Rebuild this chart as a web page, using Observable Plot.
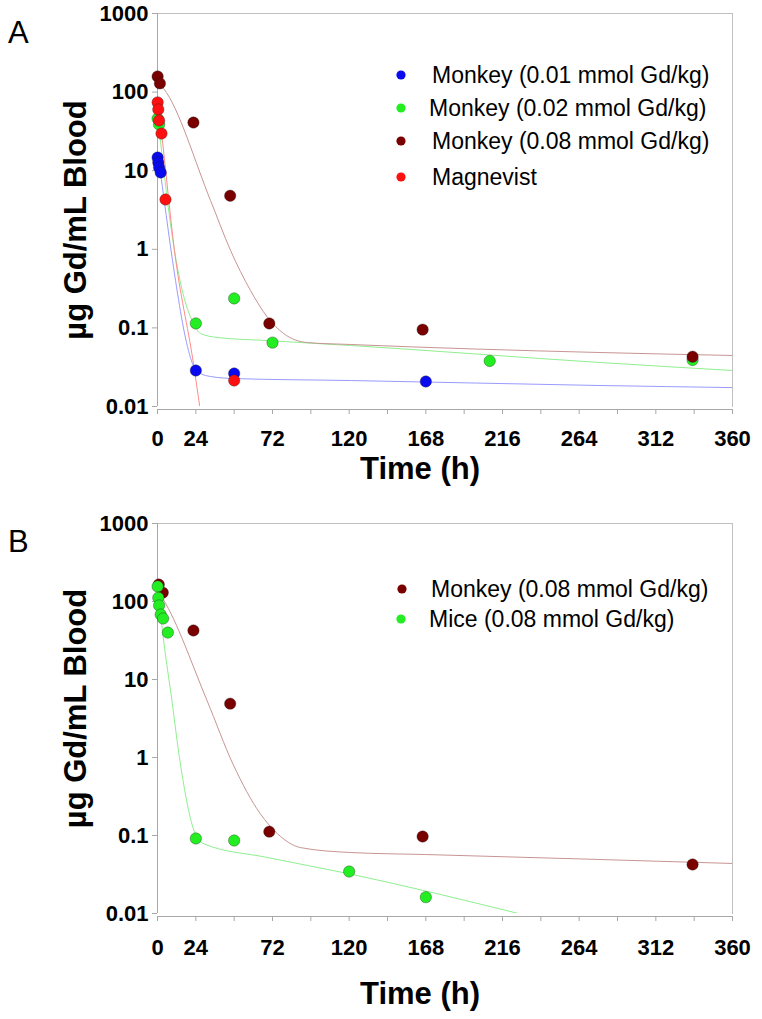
<!DOCTYPE html>
<html><head><meta charset="utf-8">
<script src="https://cdn.jsdelivr.net/npm/d3@7"></script>
<script src="https://cdn.jsdelivr.net/npm/@observablehq/plot@0.6"></script>
<style>
body{margin:0;background:#fff;width:762px;}
#chart svg{display:block}
</style></head><body><div id="chart"></div>
<script>
// ---------- axis ticks ----------
const xTicks = [0,24,48,72,96,120,144,168,192,216,240,264,288,312,336,360];
const xTickLabels = [0,24,72,120,168,216,264,312,360];
const yTicks = [0.01,0.1,1,10,100,1000];
const yTickLabels = ["0.01","0.1","1","10","100","1000"];

// ---------- Panel A data ----------
const seriesA = ["Monkey (0.01 mmol Gd/kg)","Monkey (0.02 mmol Gd/kg)","Monkey (0.08 mmol Gd/kg)","Magnevist"];
const blueT = [0.08, 0.5, 1, 2, 24, 48, 168];
const blueV = [14.7, 12.7, 11.0, 9.5, 0.0287, 0.0263, 0.0208];
const greenT = [0.08, 1, 24, 48, 72, 208, 335];
const greenV = [46, 38.7, 0.114, 0.237, 0.065, 0.038, 0.039];
const brownT = [0.08, 1.5, 22.5, 45.5, 70, 166, 335];
const brownV = [158, 129, 41, 4.8, 0.114, 0.095, 0.043];
const redT = [0.08, 0.5, 1, 2.5, 5, 48];
const redV = [74, 60, 43.5, 29.7, 4.3, 0.0214];
// fitted curves
const blueFitT = [0.08, 1.9, 4.2, 9.4, 19.4, 21.9, 26.9, 33.2, 47.6, 120.9, 277, 360];
const blueFitV = [14.7, 9.2, 4.18, 0.72, 0.0515, 0.0352, 0.0263, 0.0241, 0.0227, 0.0214, 0.0185, 0.0174];
const greenFitT = [0.3, 10.6, 15, 22.5, 26.9, 37.6, 68.9, 120.9, 277, 360];
const greenFitV = [46, 0.97, 0.33, 0.114, 0.085, 0.0755, 0.069, 0.0597, 0.0363, 0.0287];
const brownFitT = [1, 3.8, 33.2, 45.7, 58.2, 68.9, 78.9, 93.9, 120.9, 277, 360];
const brownFitV = [129, 111, 4.18, 0.97, 0.30, 0.136, 0.085, 0.065, 0.0615, 0.0486, 0.0446];
const redFitT = [0.08, 2.5, 10.6, 22.5, 26.5];
const redFitV = [74, 30, 0.97, 0.0352, 0.0098];

// ---------- Panel B data ----------
const seriesB = ["Monkey (0.08 mmol Gd/kg)","Mice (0.08 mmol Gd/kg)"];
const monkeyBT = [0.8, 3.3, 22.5, 45.5, 70, 166, 335];
const monkeyBV = [165, 130, 42.5, 4.9, 0.112, 0.097, 0.0425];
const miceT = [0.08, 0.5, 1, 2, 3.5, 6.5, 24, 48, 120, 168];
const miceV = [156, 112, 89, 68, 60.5, 40, 0.0916, 0.0863, 0.0345, 0.0162];
const monkeyBFitT = [1, 3.3, 31, 47.4, 64.3, 75, 89.5, 121, 168, 360];
const monkeyBFitV = [129, 109, 5.38, 0.81, 0.191, 0.106, 0.070, 0.0605, 0.057, 0.0438];
const miceFitT = [0.08, 3.3, 9, 14, 23.5, 28.5, 68.7, 119, 226];
const miceFitV = [156, 38.9, 5.4, 0.916, 0.106, 0.079, 0.0523, 0.0326, 0.01];

// ---------- styles ----------
const ptColor = {blue:"#0a0af0", green:"#22ee22", brown:"#7a0000", red:"#ff1010"};
const lnColor = {blue:"#9a9aff", green:"#8fef8f", brown:"#c89494", red:"#ff8c8c"};
const FONT = "'Liberation Sans', Arial, Helvetica, sans-serif";
const AXIS = "#a8a8a8";

const zip = (T, V) => T.map((t, i) => ({t, v: V[i]}));

function panel({height, mt, mb, letter, lines, dots, legend, xLabelPad, titleDy, yTitleDy}) {
  const marks = [
    Plot.frame({anchor: "top", stroke: "#c0c0c0"}),
    Plot.frame({anchor: "right", stroke: "#c0c0c0"}),
    Plot.ruleX([0], {stroke: AXIS}),
    Plot.ruleY([0.01], {dy: 3, stroke: AXIS}),
    Plot.axisY({ticks: yTicks, tickFormat: d => yTickLabels[yTicks.indexOf(d)], tickSize: 5, tickPadding: 4,
      stroke: AXIS, fill: "black", fontSize: 22, fontWeight: "bold", label: null}),
    Plot.axisX({ticks: xTicks, tickFormat: () => "", tickSize: 5, dy: 3, stroke: AXIS, label: null}),
    Plot.axisX({ticks: xTickLabels, tickSize: 0, tickPadding: xLabelPad, dy: 3, fill: "black",
      fontSize: 22, fontWeight: "bold", label: null}),
    Plot.text(["Time (h)"], {frameAnchor: "bottom", dx: -25, dy: titleDy, fontSize: 31, fontWeight: "bold", lineAnchor: "middle"}),
    Plot.text(["µg Gd/mL Blood"], {frameAnchor: "left", dx: -81, dy: yTitleDy, rotate: -90, fontSize: 31, fontWeight: "bold", lineAnchor: "middle", textAnchor: "middle"}),
  ];
  for (const l of lines) marks.push(Plot.line(zip(l.T, l.V), {x: "t", y: "v", stroke: lnColor[l.c], strokeWidth: 1, curve: "monotone-x", clip: true}));
  for (const d of dots) marks.push(Plot.dot(zip(d.T, d.V), {x: "t", y: "v", r: 5.7, fill: ptColor[d.c], stroke: "#202020", strokeWidth: 0.5, strokeOpacity: 0.7}));
  const svg = Plot.plot({
    width: 762, height, marginTop: mt, marginBottom: mb, marginLeft: 157, marginRight: 30,
    style: {fontFamily: FONT, background: "white", color: "black", overflow: "visible"},
    x: {domain: [0, 360]},
    y: {type: "log", domain: [0.01, 1000]},
    marks
  });
  const s = d3.select(svg);
  s.append("text").attr("x", 8).attr("y", 43).attr("text-anchor", "start").attr("font-size", 31)
    .attr("font-family", FONT).attr("fill", "black").text(letter);
  const g = s.append("g").attr("font-family", FONT).attr("font-size", 23).attr("fill", "black").attr("text-anchor", "start");
  legend.forEach(it => {
    g.append("circle").attr("cx", it.dx).attr("cy", it.y).attr("r", 4.6).attr("fill", ptColor[it.c]);
    g.append("text").attr("x", it.tx).attr("y", it.y).attr("dy", "0.36em").attr("text-anchor", "start")
      .attr("font-weight", "normal").text(it.label);
  });
  return svg;
}

const chart = document.getElementById("chart");
chart.append(panel({
  height: 509, mt: 13, mb: 103, letter: "A", xLabelPad: 21, titleDy: 63, yTitleDy: 10,
  lines: [
    {T: blueFitT, V: blueFitV, c: "blue"},
    {T: greenFitT, V: greenFitV, c: "green"},
    {T: brownFitT, V: brownFitV, c: "brown"},
    {T: redFitT, V: redFitV, c: "red"}
  ],
  dots: [
    {T: blueT, V: blueV, c: "blue"},
    {T: greenT, V: greenV, c: "green"},
    {T: brownT, V: brownV, c: "brown"},
    {T: redT, V: redV, c: "red"}
  ],
  legend: [
    {label: seriesA[0], c: "blue", dx: 401, tx: 432, y: 75},
    {label: seriesA[1], c: "green", dx: 401, tx: 429, y: 108},
    {label: seriesA[2], c: "brown", dx: 401, tx: 432, y: 141},
    {label: seriesA[3], c: "red", dx: 401, tx: 432, y: 177}
  ]
}));
chart.append(panel({
  height: 510, mt: 14, mb: 106, letter: "B", xLabelPad: 23, titleDy: 81, yTitleDy: -10,
  lines: [
    {T: monkeyBFitT, V: monkeyBFitV, c: "brown"},
    {T: miceFitT, V: miceFitV, c: "green"}
  ],
  dots: [
    {T: monkeyBT, V: monkeyBV, c: "brown"},
    {T: miceT, V: miceV, c: "green"}
  ],
  legend: [
    {label: seriesB[0], c: "brown", dx: 402, tx: 431, y: 589},
    {label: seriesB[1], c: "green", dx: 401, tx: 429, y: 619}
  ].map(d => ({...d, y: d.y - 509}))
}));
</script></body></html>
